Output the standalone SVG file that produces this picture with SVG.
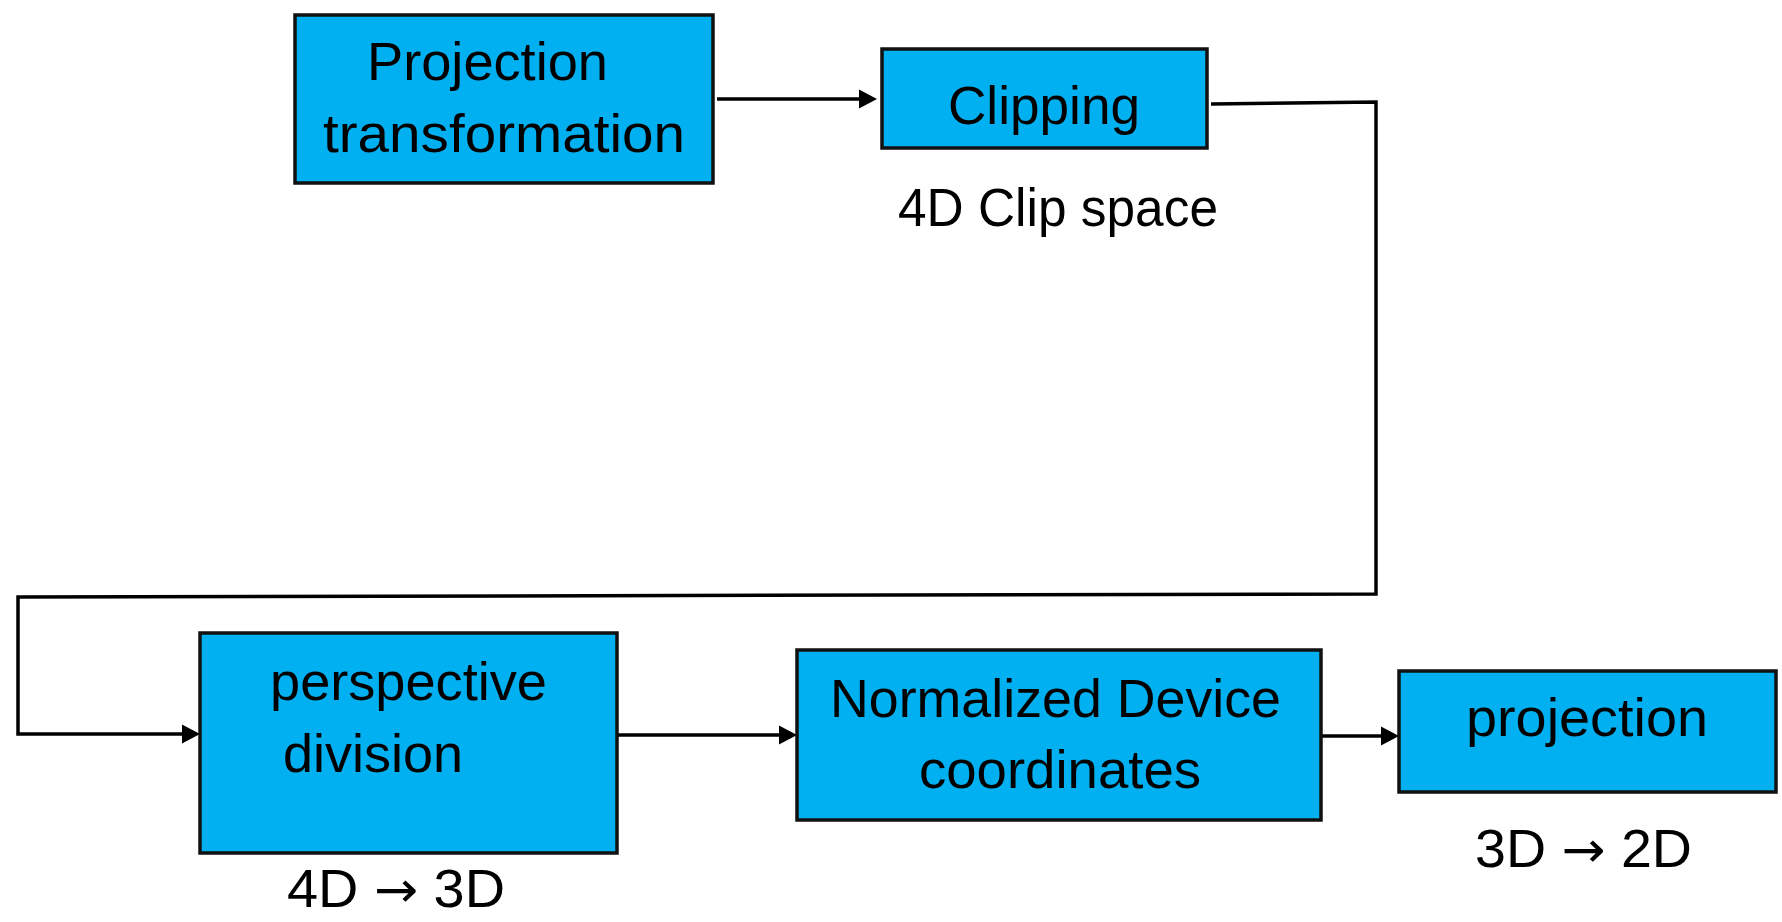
<svg xmlns="http://www.w3.org/2000/svg" width="1782" height="922" viewBox="0 0 1782 922">
<style>
.box{fill:#00B0F0;stroke:#111;stroke-width:3.5}
.t{font-family:"Liberation Sans",Arial,sans-serif;font-size:53px;fill:#000}
.arr{font-family:"DejaVu Sans",sans-serif;font-size:50px}
.conn{fill:none;stroke:#000;stroke-width:3.5;stroke-linejoin:miter}
</style>
<defs>
<marker id="ah" markerUnits="userSpaceOnUse" markerWidth="20" markerHeight="22" refX="9" refY="10" orient="auto">
<path d="M0,0.5 L18,10 L0,19.5 z" fill="#000"/>
</marker>
</defs>
<rect width="1782" height="922" fill="#fff"/>
<g id="connectors">
<path class="conn" d="M717,99 L868,99" marker-end="url(#ah)"/>
<path class="conn" d="M1211,104 L1376,102 L1376,594 L18,597 L18,734 L191,734" marker-end="url(#ah)"/>
<path class="conn" d="M617,735 L788,735" marker-end="url(#ah)"/>
<path class="conn" d="M1321,736 L1390,736" marker-end="url(#ah)"/>
</g>
<g id="projection-transformation">
<rect class="box" x="295" y="15" width="418" height="168"/>
<text class="t" x="367" y="80" textLength="241" lengthAdjust="spacingAndGlyphs">Projection</text>
<text class="t" x="323" y="152" textLength="362" lengthAdjust="spacingAndGlyphs">transformation</text>
</g>
<g id="clipping">
<rect class="box" x="882" y="49" width="325" height="99"/>
<text class="t" x="948" y="124" textLength="192" lengthAdjust="spacingAndGlyphs">Clipping</text>
</g>
<g id="clip-space-label">
<text class="t" x="898" y="226" textLength="320" lengthAdjust="spacingAndGlyphs">4D Clip space</text>
</g>
<g id="perspective-division">
<rect class="box" x="200" y="633" width="417" height="220"/>
<text class="t" x="270" y="700" textLength="277" lengthAdjust="spacingAndGlyphs">perspective</text>
<text class="t" x="283" y="772" textLength="180" lengthAdjust="spacingAndGlyphs">division</text>
</g>
<g id="label-4d-3d">
<text class="t" x="287" y="907" textLength="218" lengthAdjust="spacingAndGlyphs">4D <tspan class="arr">→</tspan> 3D</text>
</g>
<g id="ndc">
<rect class="box" x="797" y="650" width="524" height="170"/>
<text class="t" x="830" y="717" textLength="451" lengthAdjust="spacingAndGlyphs">Normalized Device</text>
<text class="t" x="919" y="788" textLength="282" lengthAdjust="spacingAndGlyphs">coordinates</text>
</g>
<g id="projection">
<rect class="box" x="1399" y="671" width="377" height="121"/>
<text class="t" x="1466" y="736" textLength="242" lengthAdjust="spacingAndGlyphs">projection</text>
</g>
<g id="label-3d-2d">
<text class="t" x="1475" y="867" textLength="217" lengthAdjust="spacingAndGlyphs">3D <tspan class="arr">→</tspan> 2D</text>
</g>
</svg>
